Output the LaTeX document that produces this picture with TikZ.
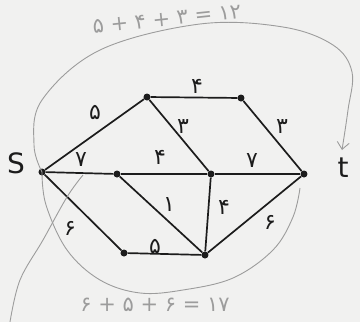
\documentclass[tikz,border=0pt]{standalone}
\usepackage{fontspec}
\setmainfont{DejaVu Sans}
\newfontfamily\fafont[Script=Arabic]{DejaVu Sans}
\usetikzlibrary{arrows.meta}
\definecolor{paperFill}{HTML}{F1F1F0}
\definecolor{inkDraw}{HTML}{1C1C1C}
\definecolor{pencilDraw}{HTML}{9C9C9C}
\tikzset{
  vtx/.style   ={circle, fill=inkDraw, inner sep=0pt, minimum size=7pt},
  edge/.style  ={draw=inkDraw, line width=1.7pt},
  wt/.style    ={font=\fafont\fontsize{22}{24}\selectfont, text=inkDraw, inner sep=0pt},
  term/.style  ={font=\fontsize{28}{30}\selectfont, text=inkDraw, inner sep=0pt},
  pencil/.style={draw=pencilDraw, line width=0.9pt},
  tally/.style ={font=\fafont\fontsize{21}{24}\selectfont, text=pencilDraw, inner sep=0pt},
}
\begin{document}
\begin{tikzpicture}[x=1pt, y=-1pt]
  \useasboundingbox (0,0) rectangle (360,322);
  \fill[paperFill] (0,0) rectangle (360,322);
  \clip (0,0) rectangle (360,322);

  % vertices
  \node[vtx] (s) at (42,172)  {};
  \node[vtx] (a) at (147,97)  {};
  \node[vtx] (b) at (241,98)  {};
  \node[vtx] (m) at (117,174) {};
  \node[vtx] (n) at (211,174) {};
  \node[vtx] (t) at (304,174) {};
  \node[vtx] (c) at (124,253) {};
  \node[vtx] (d) at (205,255) {};
  \node[term] (sname) at (16,163) {S};
  \node[term] (tname) at (343,168) {t};

  % edges
  \draw[edge] (s)--(a); \draw[edge] (a)--(b);
  \draw[edge] (a)--(n); \draw[edge] (b)--(t);
  \draw[edge] (s)--(m); \draw[edge] (m)--(n); \draw[edge] (n)--(t);
  \draw[edge] (m)--(d); \draw[edge] (n)--(d);
  \draw[edge] (s)--(c); \draw[edge] (c)--(d); \draw[edge] (d)--(t);

  % weights
  \node[wt] (wsa) at (95,112)  {۵};
  \node[wt] (wab) at (197,86)  {۴};
  \node[wt] (wan) at (183,127) {۳};
  \node[wt] (wbt) at (282,127) {۳};
  \node[wt] (wsm) at (81,160)  {۷};
  \node[wt] (wmn) at (160,157) {۴};
  \node[wt] (wnt) at (252,161) {۷};
  \node[wt] (wmd) at (169,205) {۱};
  \node[wt] (wnd) at (224,207) {۴};
  \node[wt] (wsc) at (70,228)  {۶};
  \node[wt] (wcd) at (155,246) {۵};
  \node[wt] (wdt) at (270,222) {۶};

  % pencil paths
  \coordinate (toptip) at (342,150);
  \coordinate (lowend) at (300,188);
  \draw[pencil, -{Straight Barb[length=7pt, width=12pt]}] plot[smooth, tension=0.6]
    coordinates {(s.center) (34,145) (42,100) (100,50) (200,24) (283,27) (333,45) (352,72) (348,110) (toptip)};
  \draw[pencil] plot[smooth, tension=0.6]
    coordinates {(s.center) (46,205) (67,250) (100,280) (140,293) (183,290) (233,278) (273,250) (293,217) (lowend)};
  \draw[pencil] plot[smooth, tension=0.6]
    coordinates {(83,175) (67,197) (43,240) (20,280) (10,322)};
  \node[tally, rotate=6] (toptally) at (167,19) {۵ + ۴ + ۳ = ۱۲};
  \node[tally] (lowtally) at (155,305) {۶ + ۵ + ۶ = ۱۷};
\end{tikzpicture}
\end{document}
